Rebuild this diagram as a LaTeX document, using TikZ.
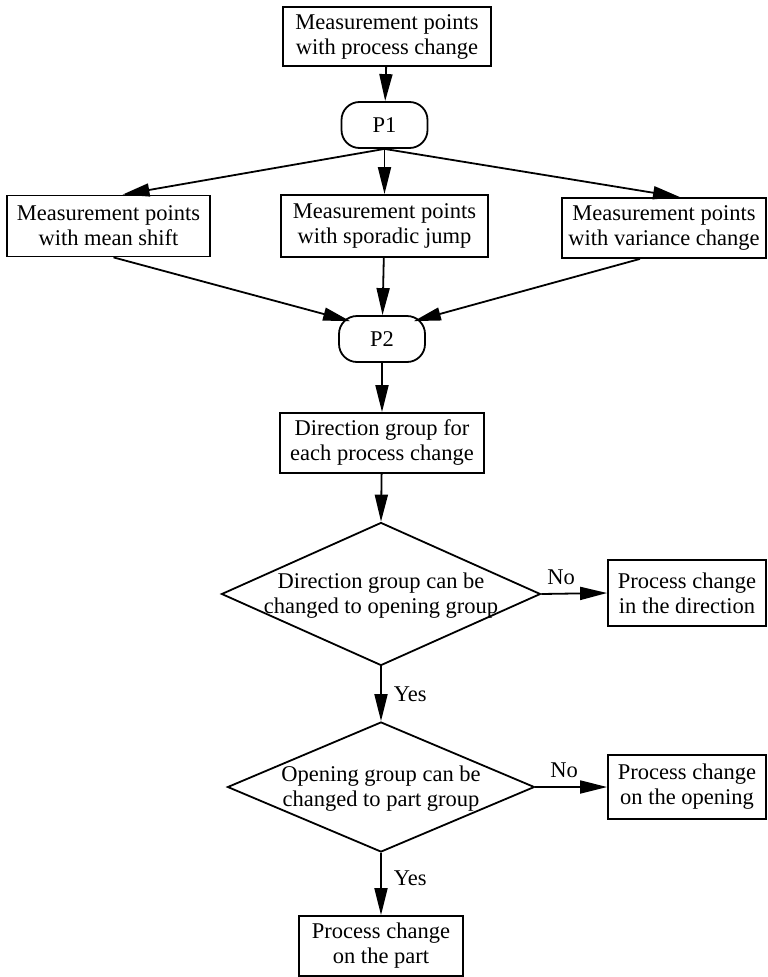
\documentclass[tikz,border=0pt]{standalone}
\usepackage{fontspec}
\setmainfont{Liberation Serif}
\usetikzlibrary{arrows.meta,calc,shapes.geometric}
\begin{document}
\begin{tikzpicture}[x=1pt,y=-1pt,
  every node/.style={font=\fontsize{22.5}{25}\selectfont,align=center},
  box/.style={draw,line width=1.8pt,inner sep=0pt},
  pill/.style={draw,line width=1.8pt,rounded corners=18pt,inner sep=0pt,minimum width=86pt,minimum height=46pt},
  dia/.style={draw,diamond,line width=1.8pt,inner sep=0pt},
  arr/.style={line width=1.8pt,-{Triangle[length=27pt,width=13pt]}},
  lbl/.style={inner sep=0pt}]
\useasboundingbox (0,0) rectangle (768,977);
\clip (0,0) rectangle (768,977);
\node[box,minimum width=208pt,minimum height=59pt] (top) at (387,36.5) {Measurement points\\with process change};
\node[pill] (p1) at (384.5,125) {P1};
\node[box,minimum width=203pt,minimum height=61pt] (lb) at (108.5,226) {Measurement points\\with mean shift};
\node[box,minimum width=207pt,minimum height=62pt] (mb) at (384.5,226) {Measurement points\\with sporadic jump};
\node[box,minimum width=204pt,minimum height=60pt] (rb) at (664,228) {Measurement points\\with variance change};
\node[pill] (p2) at (382,339) {P2};
\node[box,minimum width=204pt,minimum height=60pt] (dir) at (382,443) {Direction group for\\each process change};
\node[dia,minimum width=319pt,minimum height=143pt] (d1) at (381,594) {};
\node (d1t) at (381,596) {Direction group can be\\changed to opening group};
\node[box,minimum width=158pt,minimum height=66pt] (r1) at (687,593) {Process change\\in the direction};
\node[dia,minimum width=307pt,minimum height=130pt] (d2) at (381,787) {};
\node (d2t) at (381,789) {Opening group can be\\changed to part group};
\node[box,minimum width=158pt,minimum height=64pt] (r2) at (687,787) {Process change\\on the opening};
\node[box,minimum width=164pt,minimum height=60pt] (bt) at (381,946) {Process change\\on the part};
\draw[arr] (top) -- (p1);
\draw[arr] (p1.south) -- ($(lb.north)+(14,0)$);
\draw[arr] (p1.south) -- (mb.north);
\draw[arr] (p1.south) -- ($(rb.north)+(16,0)$);
\draw[arr] ($(lb.south)+(5,0)$) -- ($(p2.north west)+(12,6)$);
\draw[arr] (mb) -- (p2);
\draw[arr] ($(rb.south)+(-24,0)$) -- ($(p2.north east)+(-12,6)$);
\draw[arr] (p2) -- (dir);
\draw[arr] (dir) -- (d1.north);
\draw[arr] (d1.south) -- node[lbl,right=12pt] (y1) {Yes} (d2.north);
\draw[arr] (d2.south) -- node[lbl,right=12pt,pos=0.4] (y2) {Yes} (bt.north);
\draw[arr] (d1.east) -- node[lbl,above=8pt,pos=0.3] (n1) {No} (r1.west);
\draw[arr] (d2.east) -- node[lbl,above=8pt,pos=0.4] (n2) {No} (r2.west);
\end{tikzpicture}
\end{document}
